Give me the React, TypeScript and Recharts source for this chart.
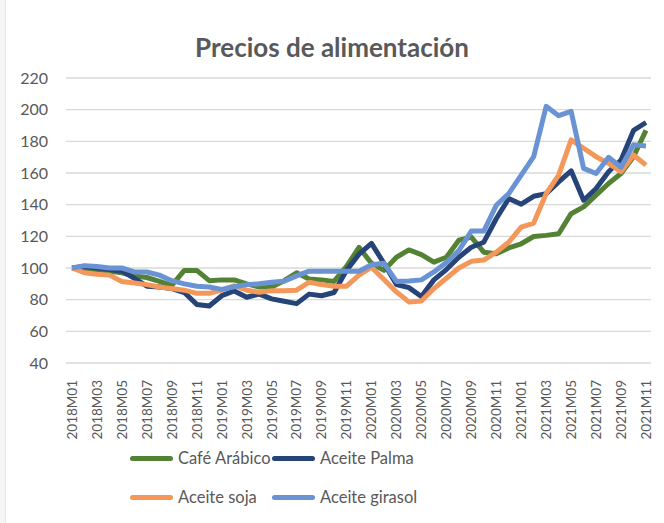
import React from 'react';
import { LineChart, Line, XAxis, YAxis, CartesianGrid } from 'recharts';

const months = [
  '2018M01', '2018M02', '2018M03', '2018M04', '2018M05', '2018M06', '2018M07', '2018M08', '2018M09', '2018M10', '2018M11', '2018M12',
  '2019M01', '2019M02', '2019M03', '2019M04', '2019M05', '2019M06', '2019M07', '2019M08', '2019M09', '2019M10', '2019M11', '2019M12',
  '2020M01', '2020M02', '2020M03', '2020M04', '2020M05', '2020M06', '2020M07', '2020M08', '2020M09', '2020M10', '2020M11', '2020M12',
  '2021M01', '2021M02', '2021M03', '2021M04', '2021M05', '2021M06', '2021M07', '2021M08', '2021M09', '2021M10', '2021M11'
];

const cafeArabico = [
  100, 99, 98.5, 98, 97, 95, 94, 91.5, 89, 98.5, 98.5, 92,
  92.5, 92.5, 90, 88, 88, 92, 97, 93, 92.5, 91.5, 101, 113,
  103, 98.5, 106.8, 111.4, 108.5, 103.7, 106.8, 117.5, 119.5, 110, 109, 112.7,
  115.3, 119.9, 120.6, 121.6, 134.3, 138.6, 146, 153.4, 159.7, 170.3, 186.9
];

const aceitePalma = [
  100, 101, 100, 99, 98, 93.5, 88.5, 88, 87, 84.5, 77, 76,
  82.5, 85.5, 81.5, 83.5, 80.5, 79, 77.5, 83.5, 82.5, 84.5, 98.5, 108.7,
  115.5, 103, 89.6, 87.6, 82, 92.5, 99, 106.8, 113.1, 116.3, 131.1, 143.9,
  140.3, 145.3, 147, 154.4, 161.4, 142.8, 150.2, 160.8, 168.2, 186.9, 191.9
];

const aceiteSoja = [
  100, 97, 96, 95.5, 91.5, 90.5, 89.5, 88, 87, 86, 84, 84,
  86, 88.8, 86, 84.6, 85.7, 85.7, 86, 91, 89.5, 88.5, 88.5, 95.5,
  100.5, 92.7, 84.9, 78.6, 79.2, 87, 93.5, 100, 104.2, 105, 110, 116.3,
  125.8, 128.4, 147, 158.7, 180.9, 175.6, 170.3, 166.1, 160.8, 171.4, 165
];

const aceiteGirasol = [
  100, 101.5, 101, 100, 100, 97.5, 97.5, 95.5, 92, 90, 88.5, 88,
  86.5, 88.2, 89.5, 90, 91, 91.6, 95, 98, 98, 98, 98, 98,
  102, 103, 91.5, 91.8, 92.5, 97.5, 103.5, 111, 123.3, 123.3, 139.6, 147,
  158.7, 170.3, 202.1, 196.2, 198.9, 162.9, 159.7, 169.9, 163.6, 177.8, 177.1
];

const yTicks = [40, 60, 80, 100, 120, 140, 160, 180, 200, 220];

const series = [
  { key: 'cafe', name: 'Café Arábico', color: '#548235', values: cafeArabico },
  { key: 'palma', name: 'Aceite Palma', color: '#264478', values: aceitePalma },
  { key: 'soja', name: 'Aceite soja', color: '#F4975A', values: aceiteSoja },
  { key: 'girasol', name: 'Aceite girasol', color: '#6A93D4', values: aceiteGirasol }
];

const data = months.map((m, i) => {
  const row: Record<string, any> = { month: m };
  series.forEach(s => { row[s.key] = s.values[i]; });
  return row;
});

const FONT = 'Lato, "Noto Sans", sans-serif';
const TEXT = '#595959';

const MonthTick = (props: any) => {
  const { x, y, payload } = props;
  const ty = y + 9;
  return (
    <text
      x={x}
      y={ty}
      transform={`rotate(-90 ${x} ${ty})`}
      textAnchor="end"
      dy="0.36em"
      fill={TEXT}
      fontSize={13.5}
      fontFamily={FONT}
    >
      {payload.value}
    </text>
  );
};

function LegendItem({ name, color }: { name: string; color: string }) {
  return (
    <div style={{ display: 'flex', alignItems: 'center', height: 24 }}>
      <div style={{ width: 43, height: 5, borderRadius: 3, background: color, marginRight: 5 }} />
      <span style={{ fontSize: 16.5, color: TEXT, fontFamily: FONT }}>{name}</span>
    </div>
  );
}

export default function App() {
  return (
    <div style={{ position: 'relative', width: 664, height: 523, background: '#fff', overflow: 'hidden' }}>
      <style>{'body{margin:0}'}</style>
      <div style={{ position: 'absolute', left: 0, top: 0, width: 5, height: 523, background: '#f6f6f6', borderRight: '1px solid #e6e6e6' }} />
      <div
        style={{
          position: 'absolute',
          top: 34,
          left: 0,
          width: 664,
          textAlign: 'center',
          fontFamily: FONT,
          fontWeight: 700,
          fontSize: 26,
          lineHeight: '26px',
          color: TEXT
        }}
      >
        Precios de alimentación
      </div>

      <LineChart width={664} height={523} data={data} margin={{ top: 78, right: 13, bottom: 60, left: 0 }}>
        <CartesianGrid vertical={false} stroke="#d9d9d9" strokeWidth={1.4} />
        <XAxis
          dataKey="month"
          interval={1}
          tick={<MonthTick />}
          tickLine={false}
          axisLine={false}
          height={100}
          padding={{ left: 6, right: 5 }}
        />
        <YAxis
          domain={[40, 220]}
          ticks={yTicks}
          tickLine={false}
          axisLine={false}
          tickSize={0}
          tickMargin={18}
          width={66}
          tick={{ fill: TEXT, fontSize: 16, fontFamily: FONT }}
        />
        {series.map(s => (
          <Line
            key={s.key}
            type="linear"
            dataKey={s.key}
            name={s.name}
            stroke={s.color}
            strokeWidth={5}
            strokeLinejoin="round"
            dot={false}
            activeDot={false}
            isAnimationActive={false}
          />
        ))}
      </LineChart>

      <div style={{ position: 'absolute', left: 130, top: 446, display: 'grid', gridTemplateColumns: '142px auto', rowGap: 15 }}>
        {series.map(s => (
          <LegendItem key={s.key} name={s.name} color={s.color} />
        ))}
      </div>
    </div>
  );
}
